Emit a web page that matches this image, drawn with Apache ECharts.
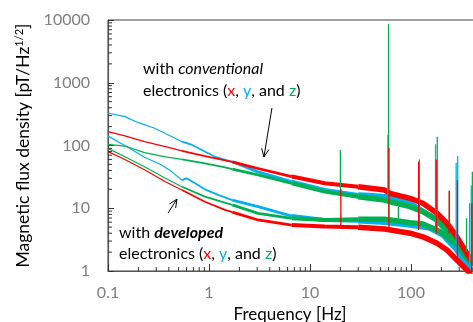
<!DOCTYPE html>
<html><head><meta charset="utf-8">
<script src="https://cdn.jsdelivr.net/npm/echarts@6/dist/echarts.min.js"></script>
<style>html,body{margin:0;padding:0;background:#fff}#c{width:473px;height:322px}</style>
</head><body><div id="c"></div>
<script>
// ---- tick labels ----
const xTickLabels = ['0.1', '1', '10', '100', '1000'];
const yTickLabels = ['1', '10', '100', '1000', '10000'];

// ---- series values [frequency Hz, flux density pT/Hz^1/2] ----
const convY = [[0.1,330],[0.147,288],[0.2,231],[0.29,188],[0.43,138],[0.54,115],[0.68,102],[0.85,85],[1.15,66],[1.7,55],[3.06,38],[6.6,26.5],[14,19.5],[30,16.3],[39,16],[55,15.3],[98,12],[181,6.5],[227,4.2],[285,2.2],[358,1.17],[393,1.0]];
const convX = [[0.1,166],[0.147,142],[0.23,115],[0.37,96],[0.54,82],[0.91,68],[1.7,55],[3.06,43],[6.6,32],[14,25],[30,22],[55,19.5],[62,17.3],[98,14.4],[131,12],[181,8.3],[227,5.8],[285,3.5],[358,1.9],[411,1.34]];
const convZ = [[0.1,104],[0.147,98],[0.23,77],[0.37,66],[0.54,60],[0.91,52],[1.44,45],[1.7,42],[3.06,34],[6.6,25],[14,18.4],[30,15.3],[55,13.5],[62,12.7],[98,10.6],[131,8.8],[181,6.5],[227,4.5],[285,2.76],[358,1.69],[411,1.34]];
const devY = [[0.1,141],[0.147,100],[0.23,65],[0.34,49],[0.43,38],[0.54,28],[0.6,30],[0.7,26],[0.91,20],[1.23,16.3],[1.7,13.5],[3.06,10.6],[6.6,7.5],[14,6.5],[30,6.3],[55,6.0],[98,5.4],[154,4.84],[207,3.75],[285,2.16],[358,1.25],[393,1.0]];
const devZ = [[0.1,90],[0.147,66],[0.23,46],[0.37,30],[0.54,22],[0.91,15.3],[1.7,11.3],[3.06,8.3],[6.6,6.9],[14,6.5],[30,6.7],[55,6.7],[98,5.9],[131,5.6],[181,4.5],[227,3.5],[285,2.6],[358,1.6],[411,1.25]];
const devX = [[0.1,80],[0.147,60],[0.23,41],[0.37,26.5],[0.54,19.5],[0.91,12.7],[1.44,9.4],[1.7,8.7],[3.06,6.5],[6.6,5.4],[14,5.1],[30,5.0],[55,4.67],[98,4.0],[131,3.5],[181,2.76],[227,2.16],[285,1.5],[358,1.04],[393,0.86]];

// ---- line spikes [frequency, low, high] ----
const spikesBlue  = [[59,13,147],[175,5,105],[280,2.2,53],[290,2,68],[380,1.2,12],[395,1,23]];
const spikesGreen = [[20,18,85],[60,6.5,8600],[75,6.5,10.5],[121,6,60],[182,5,138],[240,5,19],[355,2,6.9],[405,1.2,38]];
const spikesRed   = [[20.2,5.2,20],[60.5,4.5,91],[119,4.5,55],[178,4,60],[239,4,19],[288,1.6,28],[400,1,12]];

// ---- annotations (data coordinates) ----
const arrowConv = [[4.2,396],[3.5,65.6]];
const arrowDev  = [[0.393,8.4],[0.482,14.0]];

// ---- styling ----
const RED = '#ff0000', BLUE = '#00b0f0', GREEN = '#00b050';
const widthBands = [[0.1,0.54,1.2],[0.54,1.7,1.8],[1.7,6.6,2.8],[6.6,30,4],[30,1e9,5.5]];
const FONT = 'Lato, "Liberation Sans", sans-serif';

function curveSeries(data, color, z) {
  return widthBands.map(([lo, hi, w]) => ({
    type: 'line', data: data.filter(p => p[0] >= lo && p[0] <= hi),
    symbol: 'none', silent: true, z: z,
    lineStyle: { color: color, width: w, join: 'round' }
  }));
}
function spikeSeries(sp, color, z) {
  const d = [];
  sp.forEach(([f, lo, hi]) => { d.push([f, lo]); d.push([f, hi]); d.push([f, '-']); });
  return { type: 'line', data: d, symbol: 'none', silent: true, z: z, connectNulls: false,
           lineStyle: { color: color, width: 1.3 } };
}
const xMinor = [], yMinor = [];
[0.1, 1, 10, 100].forEach(d => { for (let k = 2; k <= 9; k++) xMinor.push(+(k * d).toPrecision(3)); });
[1, 10, 100, 1000].forEach(d => { for (let k = 2; k <= 9; k++) yMinor.push(k * d); });

const fmt = labels => v => { const s = String(+Number(v).toPrecision(6)); return labels.includes(s) ? s : ''; };

const chart = echarts.init(document.getElementById('c'), null, { renderer: 'canvas' });
const option = {
  animation: false,
  backgroundColor: '#fff',
  grid: { left: 108, top: 20, right: -39, bottom: 51, containLabel: false, outerBoundsMode: 'none',
          show: true, borderColor: '#404040', borderWidth: 1 },
  xAxis: {
    type: 'log', logBase: 10, min: 0.1, max: 1000, splitNumber: 4,
    axisLine: { lineStyle: { color: '#555', width: 1.2 } },
    axisTick: { inside: true, length: 7, lineStyle: { color: '#333' } },
    splitLine: { show: false },
    axisLabel: { formatter: fmt(xTickLabels), color: '#7f7f7f', fontSize: 16, fontFamily: FONT, margin: 14 },
    name: 'Frequency [Hz]', nameLocation: 'middle', nameGap: 34,
    nameTextStyle: { color: '#000', fontSize: 17, fontFamily: FONT, padding: [0, 40, 0, 0] }
  },
  yAxis: {
    type: 'log', logBase: 10, min: 1, max: 10000, splitNumber: 4,
    axisLine: { lineStyle: { color: '#555', width: 1.2 } },
    axisTick: { inside: true, length: 6, lineStyle: { color: '#333' } },
    splitLine: { show: false },
    axisLabel: { formatter: fmt(yTickLabels), color: '#7f7f7f', fontSize: 16, fontFamily: FONT, margin: 18 },
    name: '{a|Magnetic flux density [pT/Hz}{s|1/2}{a|]}', nameLocation: 'middle', nameGap: 75, nameRotate: 90,
    nameTextStyle: { rich: {
      a: { color: '#000', fontSize: 17.5, fontFamily: FONT },
      s: { color: '#000', fontSize: 11, fontFamily: FONT, verticalAlign: 'top', padding: [0, 0, 8, 0] } } }
  },
  series: [
    ...curveSeries(convY, BLUE, 2), ...curveSeries(devY, BLUE, 2),
    ...curveSeries(convZ, GREEN, 3), ...curveSeries(devZ, GREEN, 3),
    ...curveSeries(convX, RED, 4), ...curveSeries(devX, RED, 4),
    spikeSeries(spikesBlue, BLUE, 5), spikeSeries(spikesGreen, GREEN, 6), spikeSeries(spikesRed, RED, 7),
    { type: 'custom', data: xMinor.map(v => [v, 1]), silent: true, clip: false, z: 9,
      renderItem: (p, api) => { const c = api.coord([api.value(0), 1]);
        return { type: 'line', shape: { x1: c[0], y1: c[1], x2: c[0], y2: c[1] - 4 }, style: { stroke: '#333', lineWidth: 1 } }; } },
    { type: 'custom', data: yMinor.map(v => [0.1, v]), silent: true, clip: false, z: 9,
      renderItem: (p, api) => { const c = api.coord([0.1, api.value(1)]);
        return { type: 'line', shape: { x1: c[0], y1: c[1], x2: c[0] + 4, y2: c[1] }, style: { stroke: '#333', lineWidth: 1 } }; } }
  ]
};
chart.setOption(option);

// annotations
const rich = {
  n: { fontSize: 16, fontFamily: FONT, fill: '#000' },
  i: { fontSize: 16, fontFamily: FONT, fill: '#000', fontStyle: 'italic' },
  bi: { fontSize: 16, fontFamily: FONT, fill: '#000', fontStyle: 'italic', fontWeight: 'bold' },
  r: { fontSize: 16, fontFamily: FONT, fill: RED },
  b: { fontSize: 16, fontFamily: FONT, fill: BLUE },
  g: { fontSize: 16, fontFamily: FONT, fill: GREEN }
};
const line2 = '{n|electronics (}{r|x}{n|, }{b|y}{n|, and }{g|z}{n|)}';
function arrow(a) {
  const p0 = chart.convertToPixel({ gridIndex: 0 }, a[0]);
  const p1 = chart.convertToPixel({ gridIndex: 0 }, a[1]);
  const ang = Math.atan2(p1[1] - p0[1], p1[0] - p0[0]);
  const L = 9, spread = 0.42;
  const h1 = [p1[0] - L * Math.cos(ang - spread), p1[1] - L * Math.sin(ang - spread)];
  const h2 = [p1[0] - L * Math.cos(ang + spread), p1[1] - L * Math.sin(ang + spread)];
  return [
    { type: 'line', shape: { x1: p0[0], y1: p0[1], x2: p1[0], y2: p1[1] }, style: { stroke: '#000', lineWidth: 1 }, z: 20 },
    { type: 'polyline', shape: { points: [h1, p1, h2] }, style: { stroke: '#000', lineWidth: 1, fill: null }, z: 20 }
  ];
}
chart.setOption({ graphic: [
  { type: 'text', x: 143, y: 58, z: 20, style: { text: '{n|with }{i|conventional}\n' + line2, rich: rich, lineHeight: 22, verticalAlign: 'top' } },
  { type: 'text', x: 119, y: 222, z: 20, style: { text: '{n|with }{bi|developed}\n' + line2, rich: rich, lineHeight: 21, verticalAlign: 'top' } },
  ...arrow(arrowConv), ...arrow(arrowDev)
] });
</script></body></html>
